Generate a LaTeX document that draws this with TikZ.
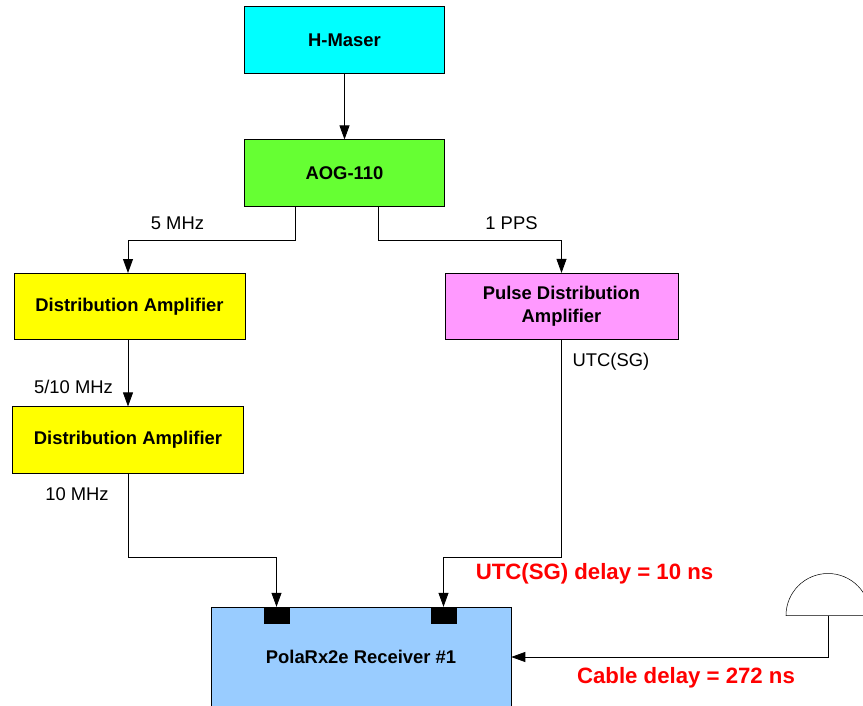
\documentclass[tikz,border=0pt]{standalone}
\usepackage{fontspec}
\setmainfont{Liberation Sans}
\usetikzlibrary{arrows.meta,positioning}
\definecolor{maser}{HTML}{00FFFF}
\definecolor{aog}{HTML}{66FF33}
\definecolor{dist}{HTML}{FFFF00}
\definecolor{pulse}{HTML}{FF99FF}
\definecolor{recv}{HTML}{99CCFF}
\begin{document}
\begin{tikzpicture}[x=1pt,y=-1pt,
  box/.style={draw=black,line width=0.6pt,align=center,font=\bfseries\fontsize{18.4}{23}\selectfont,minimum height=66.5pt},
  lab/.style={font=\fontsize{18.4}{22}\selectfont,inner sep=0pt},
  delay/.style={font=\bfseries\fontsize{22.2}{26}\selectfont,text=red,inner sep=0pt},
  arr/.style={-{Triangle[length=14pt,width=10pt]},line width=0.8pt,draw=black}]
\useasboundingbox (0,0) rectangle (863,706);
\clip (0,0) rectangle (863,706);
% upper boxes
\node[box,fill=maser,minimum width=200pt] (maser) at (344.5,40) {H-Maser};
\node[box,fill=aog,minimum width=200pt] (aog) at (344.5,173) {AOG-110};
\node[box,fill=dist,minimum width=231pt] (amp1) at (129.5,306.5) {Distribution Amplifier};
\node[box,fill=pulse,minimum width=233pt] (pulse) at (561.5,306.5) {Pulse Distribution\\Amplifier};
\node[box,fill=dist,minimum width=231pt] (amp2) at (128,440) {Distribution Amplifier};
% receiver, runs off the page
\node[box,fill=recv,minimum width=300pt,minimum height=100pt] (recv) at (361,657) {PolaRx2e Receiver \#1};
\node[fill=black,minimum width=26pt,minimum height=17pt,inner sep=0pt] (port1) at (276.5,615.5) {};
\node[fill=black,minimum width=26pt,minimum height=17pt,inner sep=0pt] (port2) at (443.5,615.5) {};
% antenna
\coordinate (dish) at (828,615.5);
\draw[line width=0.5pt] (786,615.5) arc[start angle=180,end angle=360,radius=42] -- cycle;
% tap points on the box edges
\coordinate (tap5) at (295,206.5);
\coordinate (tap1) at (378,206.5);
\coordinate (in5) at (128,273);
\coordinate (out510) at (128,340);
% connectors
\draw[arr] (maser) -- (aog);
\draw[arr] (tap5) -- ++(0,33.5) -| (in5);
\draw[arr] (tap1) -- ++(0,33.5) -| (pulse.north);
\draw[arr] (out510) -- (amp2.north);
\draw[arr] (amp2.south) -- ++(0,84) -| (port1.north);
\draw[arr] (pulse.south) -- (561.5,557) -| (port2.north);
\draw[arr] (dish) |- (recv.east);
% labels
\node[lab] (l5) at (177.5,223.5) {5 MHz};
\node[lab] (l1) at (511.5,223.5) {1 PPS};
\node[lab] (l510) at (73.5,386.5) {5/10 MHz};
\node[lab] (lutc) at (611,361.5) {UTC(SG)};
\node[lab] (l10) at (77,494) {10 MHz};
\node[delay] (d1) at (594.5,573.5) {UTC(SG) delay = 10 ns};
\node[delay] (d2) at (686,678) {Cable delay = 272 ns};
\end{tikzpicture}
\end{document}
